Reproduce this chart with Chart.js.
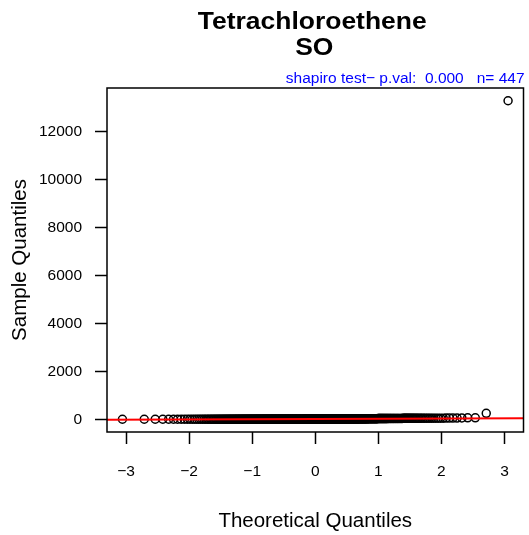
<!DOCTYPE html>
<html>
<head>
<meta charset="utf-8">
<script src="https://cdn.jsdelivr.net/npm/chart.js@4/dist/chart.umd.min.js"></script>
<style>
  html, body { margin: 0; padding: 0; background: #fff; }
  #wrap { width: 529px; height: 535px; }
</style>
</head>
<body>
<div id="wrap"><canvas id="c" width="529" height="535"></canvas></div>
<script>
// ---- data ----
const chartTitle = ["Tetrachloroethene", "SO"];
const testLabel = "shapiro test\u2212 p.val:  0.000   n= 447";
const xAxisTitle = "Theoretical Quantiles";
const yAxisTitle = "Sample Quantiles";
const xTickValues = [-3, -2, -1, 0, 1, 2, 3];
const yTickValues = [0, 2000, 4000, 6000, 8000, 10000, 12000];

// sorted sample values (447 observations)
const sampleValues = [
  0.1,0.1,0.2,0.2,0.3,0.3,0.4,0.4,0.5,0.5,
  0.5,0.5,0.6,0.6,0.6,0.7,0.7,0.7,0.8,0.8,
  0.8,0.9,0.9,0.9,1,1,1,1,1,1,
  1,1,1,1,1,1,1,1,1,1,
  1,1,1,1,1,1,1,1,1,1,
  1,1,1,1,1,1,1,1,1,1,
  1,1,1,1,1,1,1,1,1,1,
  1.1,1.1,1.1,1.2,1.2,1.2,1.3,1.3,1.3,1.4,
  1.4,1.4,1.5,1.5,1.5,1.5,1.5,1.5,1.5,1.5,
  1.6,1.6,1.7,1.7,1.8,1.8,1.9,1.9,2,2,
  2,2,2,2,2,2,2,2,2,2,
  2,2,2.1,2.1,2.2,2.2,2.3,2.3,2.4,2.4,
  2.5,2.5,2.5,2.5,2.5,2.5,2.5,2.5,2.6,2.6,
  2.7,2.7,2.8,2.8,2.9,2.9,3,3,3,3,
  3,3,3,3,3,3,3.1,3.2,3.2,3.3,
  3.4,3.4,3.5,3.5,3.6,3.7,3.8,3.9,4,4,
  4,4,4,4,4,4,4.1,4.2,4.3,4.4,
  4.5,4.5,4.6,4.7,4.8,4.9,5,5,5,5,
  5,5,5,5,5,5,5.1,5.2,5.3,5.4,
  5.5,5.5,5.6,5.7,5.8,5.9,6,6,6,6,
  6,6,6,6.1,6.2,6.3,6.4,6.5,6.6,6.7,
  6.8,6.9,7,7,7,7,7.1,7.2,7.3,7.4,
  7.5,7.5,7.6,7.7,7.8,7.9,8,8,8,8,
  8.1,8.2,8.3,8.4,8.5,8.6,8.7,8.8,8.9,9,
  9,9,9,9.1,9.2,9.3,9.4,9.5,9.6,9.7,
  9.8,9.9,10,10,10,10,10,10,10,10,
  10,10,10,10,10,10,10,10,10,10,
  10,10,10,10,10,10,10,10,10,10,
  10,10,10,10,10,10,10,10,10,10,
  10.5,10.5,11,11,11,11,11.5,11.5,12,12,
  12,12,12,12,12,12.2,12.2,12.4,12.4,12.5,
  12.5,12.6,12.8,13,13,13,13,13.2,13.4,13.5,
  13.5,13.6,13.8,14,14,14,14,14.2,14.4,14.5,
  14.5,14.6,14.8,15,15,15,15.5,16,17,18,
  18,18.2,18.4,18.6,18.8,19,19,19.2,19.4,19.6,
  19.8,20,20,20,20,20.5,21,21,21.5,22,
  22,22.5,23,23,23.5,24,24,24.5,25,25,
  25,25.5,26,26,26.5,27,27,27.5,28,28,
  28.5,29,29,29.5,30,30,30,30,30.5,31,
  31,31.5,32,32,32.5,33,33,33.5,34,34,
  34.5,35,35,35,35.5,36,36,36.5,37,37,
  37.5,38,38,38.5,39,39,39.5,40,40,40,
  40,40.5,41,41,41.5,42,42,42.5,43,43,
  43.5,44,44.5,45,45.5,46,46.5,47,47.5,48,
  50,52,55,58,62,250,13300
];

// ---- normal quantile (for the theoretical axis of the QQ plot) ----
function qnorm(p) {
  const a = [-3.969683028665376e+01, 2.209460984245205e+02, -2.759285104469687e+02, 1.383577518672690e+02, -3.066479806614716e+01, 2.506628277459239e+00];
  const b = [-5.447609879822406e+01, 1.615858368580409e+02, -1.556989798598866e+02, 6.680131188771972e+01, -1.328068155288572e+01];
  const c = [-7.784894002430293e-03, -3.223964580411365e-01, -2.400758277161838e+00, -2.549732539343734e+00, 4.374664141464968e+00, 2.938163982698783e+00];
  const d = [7.784695709041462e-03, 3.224671290700398e-01, 2.445134137142996e+00, 3.754408661907416e+00];
  const plow = 0.02425, phigh = 1 - plow;
  let q, r;
  if (p < plow) {
    q = Math.sqrt(-2 * Math.log(p));
    return (((((c[0]*q+c[1])*q+c[2])*q+c[3])*q+c[4])*q+c[5]) / ((((d[0]*q+d[1])*q+d[2])*q+d[3])*q+1);
  } else if (p <= phigh) {
    q = p - 0.5; r = q*q;
    return (((((a[0]*r+a[1])*r+a[2])*r+a[3])*r+a[4])*r+a[5])*q / (((((b[0]*r+b[1])*r+b[2])*r+b[3])*r+b[4])*r+1);
  } else {
    q = Math.sqrt(-2 * Math.log(1 - p));
    return -(((((c[0]*q+c[1])*q+c[2])*q+c[3])*q+c[4])*q+c[5]) / ((((d[0]*q+d[1])*q+d[2])*q+d[3])*q+1);
  }
}
function quantile7(sorted, p) {
  const h = (sorted.length - 1) * p, lo = Math.floor(h), hi = Math.ceil(h);
  return sorted[lo] + (h - lo) * (sorted[hi] - sorted[lo]);
}

const sorted = sampleValues.slice().sort((u, v) => u - v);
const n = sorted.length;
const points = sorted.map((v, i) => ({ x: qnorm((i + 1 - 0.5) / n), y: v }));

// axis limits like R (4% extension)
const xMinD = points[0].x, xMaxD = points[n - 1].x;
const yMinD = sorted[0], yMaxD = sorted[n - 1];
const xPad = (xMaxD - xMinD) * 0.04, yPad = (yMaxD - yMinD) * 0.04;
const xLim = [xMinD - xPad, xMaxD + xPad];
const yLim = [yMinD - yPad, yMaxD + yPad];

// qqline through the quartiles
const qy1 = quantile7(sorted, 0.25), qy3 = quantile7(sorted, 0.75);
const qx1 = qnorm(0.25), qx3 = qnorm(0.75);
const slope = (qy3 - qy1) / (qx3 - qx1);
const intercept = qy1 - slope * qx1;
const qqLine = [
  { x: xLim[0], y: intercept + slope * xLim[0] },
  { x: xLim[1], y: intercept + slope * xLim[1] }
];

const FONT = "'Liberation Sans', Arial, Helvetica, sans-serif";
const fmt = v => (v < 0 ? "\u2212" + Math.abs(v) : String(v));

function wideText(ctx, text, x, y, sx) {
  ctx.save();
  ctx.translate(x, y);
  ctx.scale(sx, 1);
  ctx.fillText(text, 0, 0);
  ctx.restore();
}

const decor = {
  id: 'decor',
  afterDraw(chart) {
    const ctx = chart.ctx, a = chart.chartArea;
    ctx.save();
    ctx.strokeStyle = '#000';
    ctx.lineWidth = 1.5;
    ctx.strokeRect(a.left, a.top, a.right - a.left, a.bottom - a.top);
    const cx = (a.left + a.right) / 2;
    ctx.fillStyle = '#000';
    ctx.textAlign = 'center';
    ctx.textBaseline = 'alphabetic';
    ctx.font = "bold 23px " + FONT;
    wideText(ctx, chartTitle[0], cx - 3, 29, 1.15);
    wideText(ctx, chartTitle[1], cx - 1, 55, 1.15);
    ctx.fillStyle = '#0000ff';
    ctx.textAlign = 'right';
    ctx.font = "15.5px " + FONT;
    ctx.fillText(testLabel, a.right + 1, 83);
    ctx.fillStyle = '#000';
    ctx.textAlign = 'center';
    ctx.font = "20.5px " + FONT;
    ctx.fillText(xAxisTitle, cx, 527);
    ctx.save();
    ctx.translate(26, (a.top + a.bottom) / 2);
    ctx.rotate(-Math.PI / 2);
    ctx.fillText(yAxisTitle, 0, 0);
    ctx.restore();
    ctx.restore();
  }
};

new Chart(document.getElementById('c'), {
  type: 'scatter',
  data: {
    datasets: [
      {
        data: qqLine,
        showLine: true,
        borderColor: '#ff0000',
        borderWidth: 2,
        pointRadius: 0,
        fill: false
      },
      {
        data: points,
        showLine: false,
        pointStyle: 'circle',
        pointRadius: 4,
        pointBorderWidth: 1.5,
        pointBorderColor: '#000',
        pointBackgroundColor: 'rgba(0,0,0,0)',
        borderColor: '#000',
        backgroundColor: 'rgba(0,0,0,0)'
      }
    ]
  },
  options: {
    responsive: false,
    animation: false,
    events: [],
    layout: { padding: { top: 88, right: 3, left: 0, bottom: 0 } },
    plugins: { legend: { display: false }, tooltip: { enabled: false }, title: { display: false } },
    scales: {
      x: {
        type: 'linear',
        min: xLim[0], max: xLim[1],
        afterBuildTicks: s => { s.ticks = xTickValues.map(v => ({ value: v })); },
        afterFit: s => { s.height = 103; },
        ticks: { color: '#000', font: { size: 15.5, family: FONT, lineHeight: '39px' }, padding: 8, maxRotation: 0, autoSkip: false, callback: v => fmt(v) },
        grid: { drawOnChartArea: false, drawTicks: true, tickLength: 12, tickColor: '#000', tickWidth: 1.5 },
        border: { display: false }
      },
      y: {
        type: 'linear',
        min: yLim[0], max: yLim[1],
        afterBuildTicks: s => { s.ticks = yTickValues.map(v => ({ value: v })); },
        afterFit: s => { s.width = 107; s.paddingTop = 0; s.paddingBottom = 0; },
        ticks: { color: '#000', font: { size: 15.5, family: FONT }, padding: 13, autoSkip: false, callback: v => fmt(v) },
        grid: { drawOnChartArea: false, drawTicks: true, tickLength: 12, tickColor: '#000', tickWidth: 1.5 },
        border: { display: false }
      }
    }
  },
  plugins: [decor]
});
</script>
</body>
</html>
